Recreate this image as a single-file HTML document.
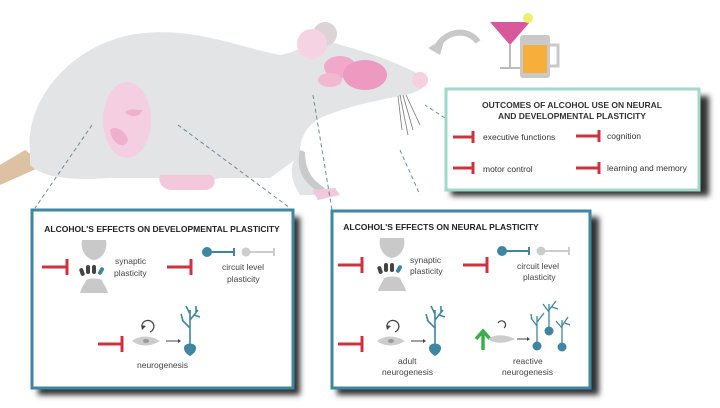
<!DOCTYPE html>
<html><head><style>
body{margin:0;width:720px;height:408px;background:#fff;overflow:hidden;font-family:"Liberation Sans",sans-serif;}
svg{position:absolute;left:0;top:0}
</style></head><body>
<svg width="720" height="408" viewBox="0 0 720 408" font-family="Liberation Sans, sans-serif">
<defs><filter id="sh" x="-10%" y="-10%" width="130%" height="130%"><feGaussianBlur stdDeviation="3"/></filter></defs>
<!-- tail -->
<path d="M0,165 L25,150 L45,165 L0,185 Z" fill="#dcc2a2"/>
<!-- rat body -->
<path d="M30,150 C25,110 60,50 130,35 C190,25 230,45 280,55 C300,52 315,38 330,42 C360,50 395,60 425,78 C430,85 420,92 405,95 C380,100 350,105 320,118 C300,130 295,150 305,175 C310,185 320,192 330,195 L300,195 C290,180 290,165 295,160 L270,178 L220,178 C200,185 180,178 165,178 L110,178 C80,180 45,180 30,165 Z" fill="#e3e4e6"/>
<path d="M300,150 C295,170 305,185 320,192 L325,188 C312,180 305,170 305,152 Z" fill="#c9cacc"/>
<path d="M160,175 L210,175 C218,178 215,190 205,190 L170,190 C160,188 158,180 160,175 Z" fill="#f2c8dc"/>
<path d="M312,190 L335,188 L340,195 L318,200 Z" fill="#f2c8dc"/>
<circle cx="325" cy="34" r="12" fill="#dcd3d6"/>
<circle cx="312" cy="44" r="15" fill="#f6d3e2"/>
<ellipse cx="340" cy="67" rx="16" ry="11" fill="#f0a9c8"/>
<ellipse cx="330" cy="80" rx="12" ry="7" fill="#f2b8d0"/>
<ellipse cx="365" cy="75" rx="22" ry="15" fill="#ec9ac0"/>
<circle cx="420" cy="80" r="8" fill="#f6d0de"/>
<g stroke="#777" stroke-width="0.8" fill="none"><path d="M400,95 L408,135"/><path d="M403,95 L413,130"/><path d="M406,95 L420,125"/><path d="M398,96 L402,130"/></g>
<ellipse cx="127" cy="120" rx="24" ry="38" fill="#f4cfe2"/>
<path d="M110,130 C112,145 125,150 128,140 C125,130 115,125 110,130Z" fill="#eeb0cc"/>
<path d="M125,112 C130,118 140,118 142,110 C135,110 130,108 125,112Z" fill="#eeb0cc"/>
<g stroke="#6e8a99" stroke-width="1" stroke-dasharray="4,3" fill="none">
<path d="M92,125 L35,208"/><path d="M178,125 L290,208"/>
<path d="M313,95 L332,210"/><path d="M400,150 L420,195"/><path d="M445,118 L425,105"/>
</g>
<path d="M478,42 C470,30 450,28 438,45" stroke="#c8c8c8" stroke-width="6" fill="none"/>
<path d="M428,48 L445,38 L440,55 Z" fill="#c8c8c8"/>
<path d="M490,22 L530,22 L510,45 Z" fill="#d9579b"/>
<line x1="510" y1="45" x2="510" y2="68" stroke="#bbb" stroke-width="2"/>
<line x1="500" y1="68" x2="520" y2="68" stroke="#bbb" stroke-width="2"/>
<circle cx="528" cy="18" r="5" fill="#eef06a"/>
<rect x="520" y="35" width="30" height="43" rx="3" fill="#c9c9c9"/>
<rect x="523" y="45" width="24" height="28" fill="#f7ae3a"/>
<path d="M550,45 L558,45 L558,66 L550,66" stroke="#c9c9c9" stroke-width="3" fill="none"/>
<!-- outcomes box -->
<rect x="451" y="96" width="258" height="100" fill="#333" filter="url(#sh)"/>
<rect x="446" y="89" width="253" height="101" fill="#fff" stroke="#9fd9c9" stroke-width="3"/>
<text x="572" y="108" font-size="8.5" font-weight="bold" text-anchor="middle" fill="#333">OUTCOMES OF ALCOHOL USE ON NEURAL</text>
<text x="572" y="119" font-size="8.5" font-weight="bold" text-anchor="middle" fill="#333">AND DEVELOPMENTAL PLASTICITY</text>
<g stroke="#d0313d" stroke-width="3"><path d="M453,137 L473,137 M473,131 L473,143"/><path d="M576,136 L599,136 M599,130 L599,142"/><path d="M453,168 L473,168 M473,162 L473,174"/><path d="M576,168 L599,168 M599,162 L599,174"/></g>
<g font-size="8.5" fill="#333"><text x="483" y="140">executive functions</text><text x="607" y="139">cognition</text><text x="483" y="172">motor control</text><text x="607" y="171">learning and memory</text></g>
<!-- dev box -->
<rect x="38" y="217" width="262" height="178" fill="#333" filter="url(#sh)"/>
<rect x="32" y="210" width="261" height="178" fill="#fff" stroke="#3d87a2" stroke-width="3"/>
<text x="162" y="232" font-size="8.5" font-weight="bold" text-anchor="middle" fill="#222">ALCOHOL'S EFFECTS ON DEVELOPMENTAL PLASTICITY</text>
<rect x="337" y="217" width="262" height="178" fill="#333" filter="url(#sh)"/>
<rect x="332" y="211" width="258" height="177" fill="#fff" stroke="#3d87a2" stroke-width="3"/>
<text x="441" y="230" font-size="8.5" font-weight="bold" text-anchor="middle" fill="#222">ALCOHOL'S EFFECTS ON NEURAL PLASTICITY</text>
<g stroke="#d0313d" stroke-width="3">
<path d="M42,267 L67,267 M67,259 L67,275"/><path d="M167,267 L191,267 M191,259 L191,275"/><path d="M98,344 L122,344 M122,336 L122,352"/>
<path d="M338,265 L362,265 M362,257 L362,273"/><path d="M463,265 L487,265 M487,257 L487,273"/><path d="M338,344 L362,344 M362,336 L362,352"/>
</g>
<path d="M483,350 L483,332 M476,339 L483,331 L490,339" stroke="#3bb04a" stroke-width="3.5" fill="none"/>
<!-- synapse -->
<g id="syn">
<path d="M82,240 L106,240 C108,250 102,259 94,260 C86,259 80,250 82,240 Z" fill="#c9c9c9"/>
<path d="M80,293 C82,286 85,284 86,280 C90,278 98,278 102,280 C103,284 106,286 108,293 Z" fill="#c9c9c9"/>
<rect x="80" y="268" width="4" height="8" rx="2" fill="#444" transform="rotate(-20 82 272)"/><rect x="86" y="265" width="4" height="9" rx="2" fill="#444"/><rect x="92" y="265" width="4" height="9" rx="2" fill="#444"/><rect x="99" y="267" width="4" height="8" rx="2" fill="#3d87a2" transform="rotate(30 101 271)"/>
</g>
<use href="#syn" x="-3" y="-2" transform="translate(301,0)"/>
<g font-size="8.5" fill="#444"><text x="115" y="264">synaptic</text><text x="114" y="276">plasticity</text>
<text x="410" y="263">synaptic</text><text x="410" y="274">plasticity</text>
<text x="222" y="270">circuit level</text><text x="227" y="282">plasticity</text>
<text x="517" y="269">circuit level</text><text x="523" y="280">plasticity</text>
<text x="137" y="368">neurogenesis</text>
<text x="398" y="364">adult</text><text x="382" y="375">neurogenesis</text>
<text x="513" y="364">reactive</text><text x="502" y="375">neurogenesis</text></g>
<g><circle cx="207" cy="252" r="5" fill="#3d87a2"/><path d="M207,252 L234,252 M234,248 L234,256" stroke="#3d87a2" stroke-width="2"/><circle cx="246" cy="252" r="4.5" fill="#ccc"/><path d="M246,252 L274,252 M274,248 L274,256" stroke="#ccc" stroke-width="2"/></g>
<g transform="translate(295,-1)"><circle cx="207" cy="252" r="5" fill="#3d87a2"/><path d="M207,252 L234,252 M234,248 L234,256" stroke="#3d87a2" stroke-width="2"/><circle cx="246" cy="252" r="4.5" fill="#ccc"/><path d="M246,252 L274,252 M274,248 L274,256" stroke="#ccc" stroke-width="2"/></g>
<!-- neurogenesis -->
<g id="ng"><path d="M132,341 C140,335 150,335 160,341 C150,347 140,347 132,341Z" fill="#ccc"/><ellipse cx="146" cy="341" rx="3" ry="2" fill="#999"/>
<path d="M142,325 A6,6 0 1 1 150,332" stroke="#444" stroke-width="1.3" fill="none"/><path d="M142,330 L141,325 L146,326Z" fill="#444"/>
<path d="M166,341 L178,341" stroke="#444" stroke-width="1"/><path d="M178,339 L181,341 L178,343Z" fill="#444"/>
<g stroke="#3d87a2" stroke-width="1.6" fill="none"><path d="M190,345 L190,310 M190,328 L182,320 M190,320 L198,310 M183,321 L181,314 M190,314 L186,306 M194,315 L200,317 M196,312 L196,306"/></g><path d="M184,348 C184,342 196,342 196,348 C196,353 190,356 190,356 C190,356 184,353 184,348Z" fill="#3d87a2"/></g>
<use href="#ng" x="245" y="0"/>
<g transform="translate(355,-2)"><path d="M133,341 C140,336 150,336 160,341 C150,346 140,346 133,341Z" fill="#ccc"/><path d="M143,325 A4,4 0 1 1 149,330" stroke="#444" stroke-width="1.2" fill="none"/><path d="M162,341 L172,341" stroke="#444"/><path d="M172,339 L175,341 L172,343Z" fill="#444"/>
<g stroke="#3d87a2" stroke-width="1.3" fill="none"><path d="M182,345 L182,318 M182,328 L176,320 M182,324 L189,315 M177,322 L176,316"/><path d="M194,330 L194,306 M194,314 L188,306 M194,312 L201,303 M197,309 L203,311"/><path d="M207,346 L207,322 M207,330 L201,323 M207,328 L213,319 M210,325 L215,327"/></g>
<circle cx="182" cy="348" r="4.5" fill="#3d87a2"/><circle cx="194" cy="333" r="4.5" fill="#3d87a2"/><circle cx="207" cy="349" r="4.5" fill="#3d87a2"/></g>
</svg>
</body></html>
